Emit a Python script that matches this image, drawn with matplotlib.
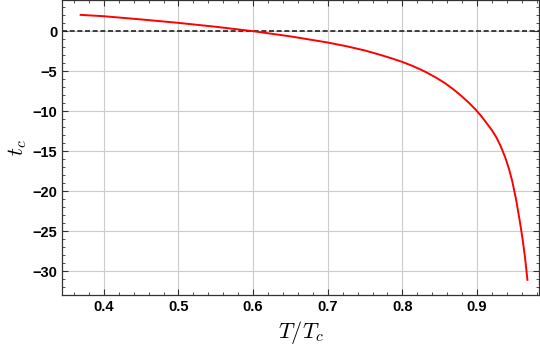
import numpy as np
import matplotlib
matplotlib.use('Agg')
import matplotlib.pyplot as plt
from matplotlib.ticker import MultipleLocator

# valori
T_ratio = [0.369, 0.40, 0.45, 0.50, 0.55, 0.60, 0.65, 0.70, 0.725, 0.75,
           0.77, 0.785, 0.80, 0.815, 0.83, 0.845, 0.857, 0.868, 0.879, 0.889,
           0.898, 0.905, 0.912, 0.92, 0.926, 0.932, 0.938, 0.943, 0.947, 0.952,
           0.957, 0.961, 0.964, 0.9675]
t_c = [2.04, 1.87, 1.47, 1.04, 0.55, 0.0, -0.65, -1.42, -1.88, -2.42,
       -2.95, -3.38, -3.85, -4.4, -5.05, -5.8, -6.5, -7.25, -8.1, -8.95,
       -9.8, -10.55, -11.4, -12.4, -13.3, -14.45, -15.85, -17.3, -18.7, -20.9,
       -23.6, -26.0, -28.1, -31.1]

x_ticks = [0.4, 0.5, 0.6, 0.7, 0.8, 0.9]
y_ticks = [0, -5, -10, -15, -20, -25, -30]

plt.rcParams['mathtext.fontset'] = 'cm'
plt.rcParams['font.family'] = 'Liberation Sans'

fig = plt.figure(figsize=(5.4, 3.49), dpi=100)
ax = fig.add_axes([62 / 540, 1 - 295 / 349, (539 - 62) / 540, 295 / 349])

ax.plot(T_ratio, t_c, color='#ff0000', lw=1.4, zorder=3)
ax.axhline(0, color='#222222', lw=1.2, ls=(0, (3, 1.6)), zorder=2)

ax.set_xlim(0.344, 0.983)
ax.set_ylim(-33, 3.9)
ax.set_xticks(x_ticks)
ax.set_yticks(y_ticks)
ax.set_xticklabels([f'{v:.1f}' for v in x_ticks])
ax.set_yticklabels([f'{v}'.replace('-', '\u2212') for v in y_ticks])
ax.xaxis.set_minor_locator(MultipleLocator(0.02))
ax.yaxis.set_minor_locator(MultipleLocator(1))
ax.grid(True, which='major', color='#cccccc', lw=0.8)

ax.tick_params(which='both', direction='in', top=True, right=True, colors='#333333',
               labelcolor='black', labelsize=10.5)
ax.tick_params(which='major', length=4, width=0.8)
ax.tick_params(which='minor', length=2.2, width=0.6)
for lab in ax.get_xticklabels() + ax.get_yticklabels():
    lab.set_fontweight('bold')
for s in ax.spines.values():
    s.set_color('#333333')
    s.set_linewidth(0.9)

ax.set_xlabel(r'$T/T_c$', fontsize=16, labelpad=4)
ax.set_ylabel(r'$t_c$', fontsize=16, labelpad=2)

fig.savefig('out.png', dpi=100)
